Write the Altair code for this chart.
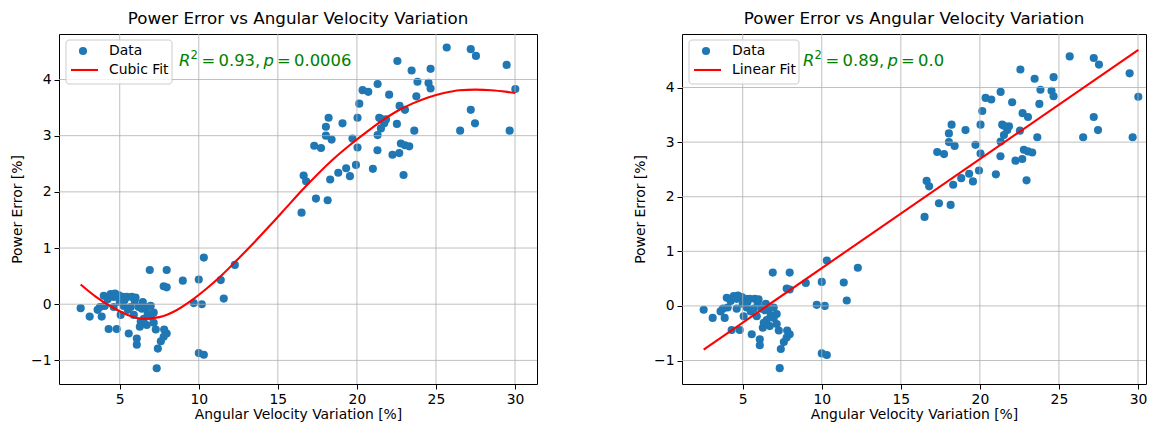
import altair as alt
import pandas as pd

# ---------------- data ----------------
angular_velocity = [
    2.53, 3.10, 3.86, 3.99, 4.24, 4.05, 4.30, 4.81, 4.43, 4.62, 4.94, 5.19, 5.44, 5.00,
    5.25, 5.51, 5.76, 5.95, 5.70, 6.20, 6.46, 6.65, 5.57, 6.08, 6.08, 6.27, 6.52, 6.77,
    6.96, 7.15, 7.15, 6.71, 7.41, 7.60, 7.78, 7.97, 7.34, 6.90, 7.97, 7.78, 7.97, 8.99,
    10.00, 9.68, 10.19, 10.00, 10.32, 10.32, 12.28, 11.39, 11.58, 6.40, 6.96, 4.62, 5.06,
    5.89, 6.33, 7.28, 7.81, 4.70, 5.30, 6.00, 3.60, 3.75,
    16.50, 17.41, 18.15, 16.63, 16.79, 18.31, 18.82, 19.32, 19.56, 19.94, 21.01, 22.95,
    17.30, 17.73, 18.40, 20.04, 21.30, 22.25, 22.68, 22.78, 23.31, 23.04, 22.56, 21.31,
    22.04, 20.36, 20.72, 20.15, 18.21, 19.09, 20.04, 21.41, 21.84, 21.73, 21.52, 21.31,
    18.04, 18.04, 19.72, 25.68, 27.20, 27.53, 29.47, 30.02, 23.46, 24.66, 23.83, 24.53,
    24.66, 23.76, 27.20, 22.70, 23.04, 22.53, 27.47, 23.63, 26.53, 29.66, 21.52,
]
power_error = [
    -0.07, -0.22, -0.22, 0.15, 0.09, -0.03, -0.44, -0.44, 0.18, 0.13, 0.16, 0.13, 0.13, 0.04,
    -0.03, -0.10, 0.13, 0.06, -0.05, -0.05, 0.04, -0.05, -0.52, -0.61, -0.72, -0.40, -0.26, -0.17,
    -0.22, -0.15, -0.33, -0.37, -0.79, -0.66, -0.58, -0.52, -1.14, 0.61, 0.61, 0.32, 0.30, 0.42,
    0.44, 0.02, 0.00, -0.87, -0.90, 0.83, 0.70, 0.43, 0.10, -0.08, -0.03, -0.05, -0.19,
    -0.19, -0.31, -0.45, -0.45, 0.19, 0.07, 0.12, -0.10, -0.05,
    1.63, 1.88, 1.85, 2.29, 2.19, 2.22, 2.34, 2.42, 2.28, 2.48, 2.41, 2.30,
    2.82, 2.78, 2.93, 2.79, 2.74, 2.66, 2.69, 2.86, 2.81, 2.83, 4.33, 3.92,
    3.73, 3.81, 3.78, 3.57, 3.32, 3.22, 3.32, 3.32, 3.29, 3.22, 3.13, 3.01,
    3.16, 3.00, 2.95, 4.57, 4.54, 4.42, 4.26, 3.83, 4.16, 4.19, 3.96, 3.94,
    3.84, 3.70, 3.46, 3.53, 3.46, 3.21, 3.22, 3.09, 3.09, 3.09, 3.30,
]
cubic_x = [2.53, 3.5, 4.5, 5.5, 6.5, 7.5, 8.5, 9.5, 10.5, 11.5, 12.5, 13.5, 14.5, 15.5,
           16.5, 17.5, 18.5, 19.5, 20.5, 21.5, 22.5, 23.5, 24.5, 25.5, 26.5, 27.5, 28.5,
           29.5, 30.02]
cubic_y = [0.35, 0.13, -0.05, -0.19, -0.26, -0.23, -0.12, 0.06, 0.28, 0.53, 0.81, 1.10,
           1.40, 1.71, 2.02, 2.31, 2.58, 2.82, 3.04, 3.25, 3.43, 3.57, 3.68, 3.76, 3.81,
           3.82, 3.81, 3.78, 3.76]
linear_x = [2.53, 30.02]
linear_y = [-0.80, 4.69]
x_ticks = [5, 10, 15, 20, 25, 30]
y_ticks = [-1, 0, 1, 2, 3, 4]

TITLE = "Power Error vs Angular Velocity Variation"
X_TITLE = "Angular Velocity Variation [%]"
Y_TITLE = "Power Error [%]"

# ---------------- styling ----------------
W_LEFT, W_RIGHT, H = 478, 464, 350
PX_PER_UNIT = 478 / (31.39 - 1.16)
FONT = "DejaVu Sans"
BLUE = "#1f77b4"
RED = "#ff0000"
GREEN = "#008000"
GRID = "#b0b0b0"
PT_SIZE = 66

pts = pd.DataFrame({"x": angular_velocity, "y": power_error})
one = pd.DataFrame({"k": [0]})

X_AXIS = alt.Axis(values=x_ticks, title=X_TITLE, format="d", titlePadding=2)
Y_AXIS = alt.Axis(values=y_ticks, title=Y_TITLE, format="d", titlePadding=6)


def txt(text, x, y, size=16.4, italic=False, color=GREEN, baseline="alphabetic"):
    return alt.Chart(one).mark_text(
        text=text, align="left", baseline=baseline, font=FONT, fontSize=size,
        fontStyle="italic" if italic else "normal", color=color,
    ).encode(x=alt.value(x), y=alt.value(y))


def panel(width, fit_x, fit_y, fit_label, r2, pval, y_domain, legend_w, pieces_x):
    xs = alt.Scale(domain=[1.16, 1.16 + width / PX_PER_UNIT], nice=False, zero=False)
    ys = alt.Scale(domain=y_domain, nice=False, zero=False)
    points = alt.Chart(pts).mark_circle(size=PT_SIZE, color=BLUE, opacity=1).encode(
        x=alt.X("x:Q", scale=xs, axis=X_AXIS),
        y=alt.Y("y:Q", scale=ys, axis=Y_AXIS),
    )
    xgrid = alt.Chart(pd.DataFrame({"x": x_ticks})).mark_rule(
        color=GRID, strokeWidth=0.8).encode(x=alt.X("x:Q", scale=xs, axis=X_AXIS))
    ygrid = alt.Chart(pd.DataFrame({"y": y_ticks})).mark_rule(
        color=GRID, strokeWidth=0.8).encode(y=alt.Y("y:Q", scale=ys, axis=Y_AXIS))
    fit = alt.Chart(pd.DataFrame({"x": fit_x, "y": fit_y})).mark_line(
        color=RED, strokeWidth=2.1, interpolate="monotone").encode(
        x=alt.X("x:Q", scale=xs, axis=X_AXIS), y=alt.Y("y:Q", scale=ys, axis=Y_AXIS))

    box = alt.Chart(one).mark_rect(
        fill="white", fillOpacity=0.8, stroke="#cccccc", strokeWidth=1, cornerRadius=3
    ).encode(x=alt.value(7), x2=alt.value(7 + legend_w), y=alt.value(6), y2=alt.value(50))
    leg_pt = alt.Chart(one).mark_circle(size=PT_SIZE, color=BLUE, opacity=1).encode(
        x=alt.value(24), y=alt.value(17))
    leg_line = alt.Chart(one).mark_rule(color=RED, strokeWidth=2.1).encode(
        x=alt.value(12), x2=alt.value(39), y=alt.value(36))
    leg_t1 = txt("Data", 50, 17, size=13.9, color="black", baseline="middle")
    leg_t2 = txt(fit_label, 50, 36, size=13.9, color="black", baseline="middle")

    px = pieces_x
    base = 32
    ann = [
        txt("R", px[0], base, italic=True),
        txt("2", px[1], base - 7, size=11.5),
        txt("=", px[2], base),
        txt(r2 + ",", px[3], base),
        txt("p", px[4], base, italic=True),
        txt("=", px[5], base),
        txt(pval, px[6], base),
    ]
    return alt.layer(points, xgrid, ygrid, fit, box, leg_pt, leg_line, leg_t1, leg_t2, *ann
                     ).properties(width=width, height=H, title=TITLE)


left = panel(W_LEFT, cubic_x, cubic_y, "Cubic Fit", "0.93", "0.0006", [-1.42, 4.81], 106,
             [120, 131.5, 142.5, 159.5, 204.5, 218, 235])
right = panel(W_RIGHT, linear_x, linear_y, "Linear Fit", "0.89", "0.0", [-1.43, 4.98], 110,
              [121, 132.5, 143.5, 160.5, 205.5, 219, 236])

chart = alt.hconcat(left, right, spacing=95).properties(
    padding={"left": 2, "top": 2, "right": 0, "bottom": 0}
).configure_view(stroke="black", strokeWidth=1).configure_axis(
    labelFont=FONT, labelFontSize=13.9, labelColor="black",
    titleFont=FONT, titleFontSize=13.9, titleFontWeight="normal", titleColor="black",
    tickColor="black", tickSize=5, tickWidth=1, labelPadding=3, domain=False, grid=False,
).configure_title(
    font=FONT, fontSize=16.7, fontWeight="normal", color="black", anchor="middle",
    baseline="top", offset=5.5,
)

chart.save("out.html", embed_options={"renderer": "svg", "actions": False})
